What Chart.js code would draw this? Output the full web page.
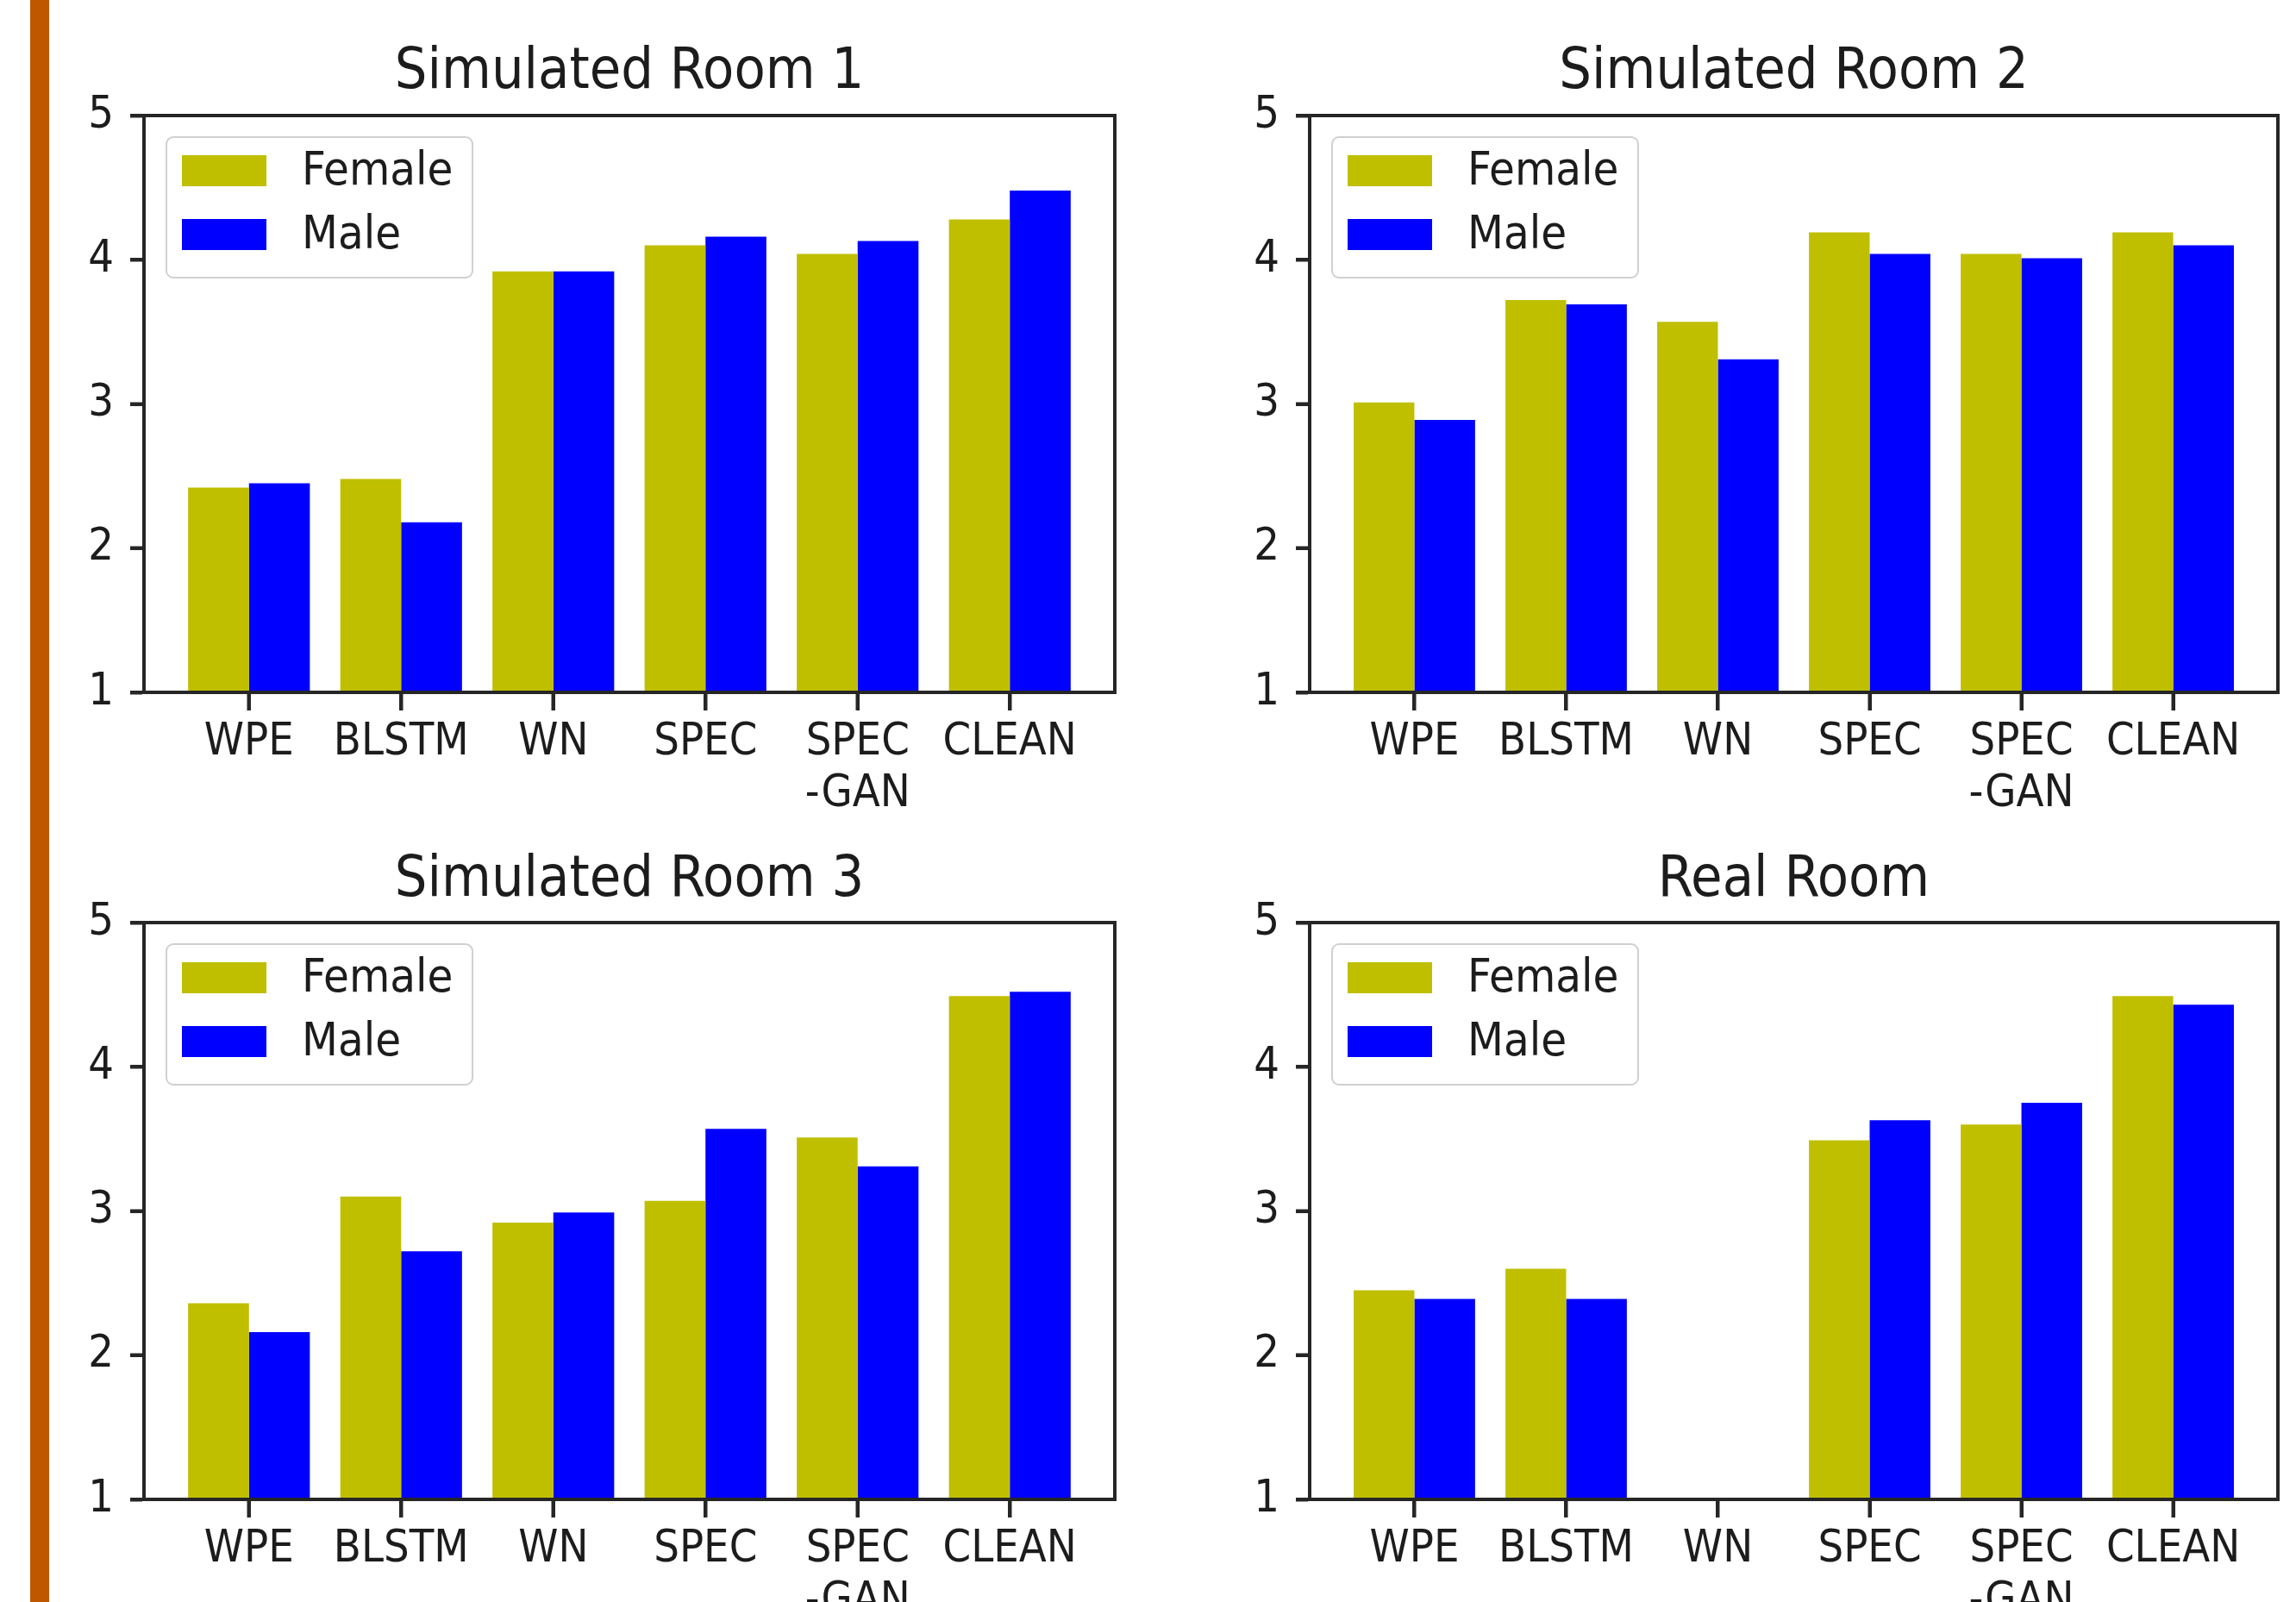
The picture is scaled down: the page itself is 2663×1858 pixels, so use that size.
<!DOCTYPE html>
<html><head><meta charset="utf-8">
<script src="https://cdn.jsdelivr.net/npm/chart.js@4.4.1/dist/chart.umd.min.js"></script>
<style>
html,body{margin:0;padding:0;background:#fff;}
body{width:2663px;height:1858px;position:relative;overflow:hidden;}
#bar{position:absolute;left:35px;top:0;width:22px;height:1858px;background:#bf5700;}
canvas{position:absolute;}
</style></head><body>
<div id="bar"></div>
<canvas id="c2" width="1331" height="929" style="left:0;top:929px"></canvas>
<canvas id="c3" width="1332" height="929" style="left:1331px;top:929px"></canvas>
<canvas id="c0" width="1331" height="1000" style="left:0;top:0"></canvas>
<canvas id="c1" width="1332" height="1000" style="left:1331px;top:0"></canvas>
<script>
// ---- data ----
const categories = ['WPE', 'BLSTM', 'WN', 'SPEC', 'SPEC\n-GAN', 'CLEAN'];
const seriesNames = ['Female', 'Male'];
const titles = ['Simulated Room 1', 'Simulated Room 2', 'Simulated Room 3', 'Real Room'];
const yTicks = [1, 2, 3, 4, 5];
const room1Female = [2.42, 2.48, 3.92, 4.10, 4.04, 4.28];
const room1Male   = [2.45, 2.18, 3.92, 4.16, 4.13, 4.48];
const room2Female = [3.01, 3.72, 3.57, 4.19, 4.04, 4.19];
const room2Male   = [2.89, 3.69, 3.31, 4.04, 4.01, 4.10];
const room3Female = [2.36, 3.10, 2.92, 3.07, 3.51, 4.49];
const room3Male   = [2.16, 2.72, 2.99, 3.57, 3.31, 4.52];
const realFemale  = [2.45, 2.60, null, 3.49, 3.60, 4.49];
const realMale    = [2.39, 2.39, null, 3.63, 3.75, 4.43];

// ---- styles ----
const FONT = '"DejaVu Sans Condensed", "DejaVu Sans", sans-serif';
const INK = '#1c1c1c';
const FRAME = '#262626';
const COLORS = ['#bfbf00', '#0000ff'];
const XTICK_LEN = 21;
const YTICK_LEN = 16;
const LW = 4;

const panels = [
  {id: 'c0', title: titles[0], f: room1Female, m: room1Male, yw: 167, pr: 38, tt: 45.4, tb: 9.4, xh: 197},
  {id: 'c1', title: titles[1], f: room2Female, m: room2Male, yw: 188, pr: 21, tt: 45.4, tb: 9.4, xh: 197},
  {id: 'c2', title: titles[2], f: room3Female, m: room3Male, yw: 167, pr: 38, tt: 53.4, tb: 8.4, xh: 119},
  {id: 'c3', title: titles[3], f: realFemale,  m: realMale,  yw: 188, pr: 21, tt: 53.4, tb: 8.4, xh: 119}
];

const mplDecor = {
  id: 'mplDecor',
  afterDatasetsDraw(chart) {
    const a = chart.chartArea, ctx = chart.ctx;
    ctx.save();
    // axes frame
    ctx.strokeStyle = FRAME;
    ctx.lineWidth = LW;
    ctx.strokeRect(a.left, a.top, a.right - a.left, a.bottom - a.top);
    // tick marks (outward, at the scale's tick positions)
    ctx.beginPath();
    chart.scales.x.ticks.forEach(t => {
      const px = Math.round(chart.scales.x.getPixelForValue(t.value));
      ctx.moveTo(px, a.bottom);
      ctx.lineTo(px, a.bottom + XTICK_LEN);
    });
    chart.scales.y.ticks.forEach(t => {
      const py = Math.round(chart.scales.y.getPixelForValue(t.value));
      ctx.moveTo(a.left - YTICK_LEN, py);
      ctx.lineTo(a.left, py);
    });
    ctx.stroke();
    // legend frame
    const fx = a.left + 26, fy = a.top + 25, fw = 355, fh = 163, r = 8;
    ctx.beginPath();
    ctx.moveTo(fx + r, fy);
    ctx.arcTo(fx + fw, fy, fx + fw, fy + fh, r);
    ctx.arcTo(fx + fw, fy + fh, fx, fy + fh, r);
    ctx.arcTo(fx, fy + fh, fx, fy, r);
    ctx.arcTo(fx, fy, fx + fw, fy, r);
    ctx.closePath();
    ctx.fillStyle = 'rgba(255,255,255,0.8)';
    ctx.fill();
    ctx.strokeStyle = '#d0d0d0';
    ctx.lineWidth = 2;
    ctx.stroke();
    chart.data.datasets.forEach((ds, i) => {
      const py = a.top + 46 + i * 74;
      ctx.fillStyle = ds.backgroundColor;
      ctx.fillRect(a.left + 44, py, 98, 36);
      ctx.fillStyle = INK;
      ctx.font = '54px ' + FONT;
      ctx.textBaseline = 'middle';
      ctx.textAlign = 'left';
      ctx.fillText(ds.label, a.left + 183, py + 20);
    });
    ctx.restore();
  }
};

panels.forEach(p => {
  const toPts = arr => arr.map((v, i) => ({x: i, y: v}));
  new Chart(document.getElementById(p.id), {
    type: 'bar',
    data: {
      datasets: [
        {label: seriesNames[0], data: toPts(p.f), backgroundColor: COLORS[0], borderWidth: 0},
        {label: seriesNames[1], data: toPts(p.m), backgroundColor: COLORS[1], borderWidth: 0}
      ]
    },
    options: {
      responsive: false,
      devicePixelRatio: 1,
      animation: false,
      events: [],
      layout: {padding: {left: 0, right: p.pr, top: 0, bottom: 0}},
      datasets: {bar: {categoryPercentage: 0.8, barPercentage: 1.0}},
      plugins: {
        legend: {display: false},
        tooltip: {enabled: false},
        title: {
          display: true, text: p.title, fullSize: false, color: INK,
          font: {family: FONT, size: 66, weight: 'normal', lineHeight: 1.2},
          padding: {top: p.tt, bottom: p.tb}
        }
      },
      scales: {
        x: {
          type: 'linear', min: -0.69, max: 5.69, offset: false,
          afterBuildTicks: s => { s.ticks = categories.map((c, i) => ({value: i})); },
          afterFit: s => { s.height = p.xh; },
          ticks: {
            autoSkip: false, maxRotation: 0, minRotation: 0, padding: 8, color: INK,
            font: {family: FONT, size: 52, lineHeight: 1.15},
            callback: v => { const c = categories[Math.round(v)]; return c ? c.split('\n') : ''; }
          },
          grid: {display: true, offset: false, drawOnChartArea: false, drawTicks: true, tickLength: XTICK_LEN, tickWidth: LW, tickColor: FRAME},
          border: {display: true, color: FRAME, width: LW}
        },
        y: {
          type: 'linear', min: 1, max: 5,
          afterBuildTicks: s => { s.ticks = yTicks.map(v => ({value: v})); },
          afterFit: s => { s.width = p.yw; },
          ticks: {
            padding: 19, color: INK,
            font: {family: FONT, size: 52, lineHeight: 1.15},
            callback: v => String(v)
          },
          grid: {display: true, offset: false, drawOnChartArea: false, drawTicks: true, tickLength: YTICK_LEN, tickWidth: LW, tickColor: FRAME},
          border: {display: true, color: FRAME, width: LW}
        }
      }
    },
    plugins: [mplDecor]
  });
});
</script>
</body></html>
